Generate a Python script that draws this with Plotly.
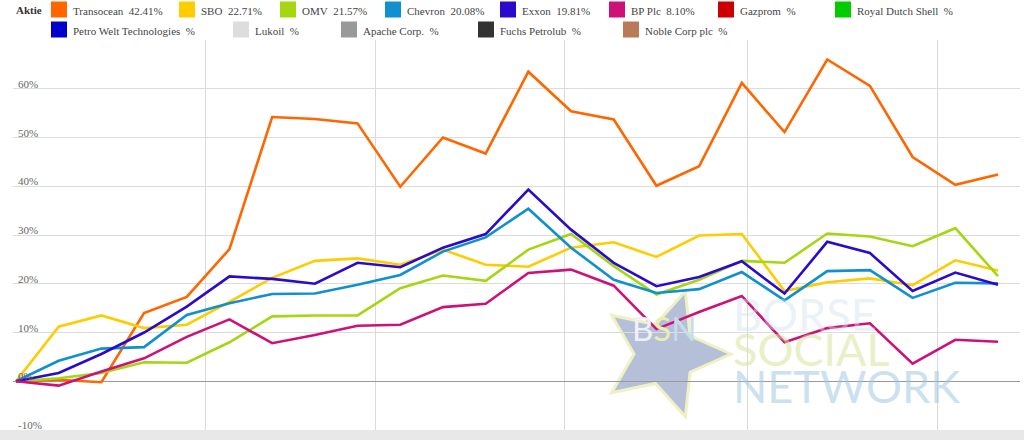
import numpy as np
import pandas as pd
import plotly.graph_objects as go

# weekly performance since start, in percent
dates = pd.date_range("2015-01-01", periods=24, freq="7D")

transocean = [0, 0.3, -0.2, 14.0, 17.3, 27.1, 54.2, 53.8, 52.9, 39.9, 50.0, 46.7,
              63.5, 55.4, 53.7, 40.1, 44.1, 61.2, 51.1, 66.0, 60.6, 46.0, 40.3, 42.41]
sbo = [0, 11.2, 13.5, 10.9, 11.6, 16.3, 21.2, 24.7, 25.2, 23.9, 27.0, 23.9,
       23.5, 27.4, 28.5, 25.5, 29.9, 30.2, 18.5, 20.3, 21.1, 19.7, 24.8, 22.71]
omv = [0, 0.6, 1.7, 3.9, 3.8, 8.0, 13.3, 13.5, 13.5, 19.1, 21.7, 20.6,
       27.0, 30.2, 23.6, 17.8, 20.8, 24.7, 24.3, 30.3, 29.7, 27.7, 31.4, 21.57]
chevron = [0, 4.2, 6.7, 7.0, 13.6, 16.0, 17.9, 18.0, 19.8, 21.8, 26.6, 29.5,
           35.4, 27.4, 20.8, 18.1, 18.9, 22.4, 16.6, 22.6, 22.8, 17.1, 20.2, 20.08]
exxon = [0, 1.7, 5.6, 10.0, 15.3, 21.5, 21.0, 20.0, 24.3, 23.4, 27.4, 30.2,
         39.3, 31.1, 24.3, 19.5, 21.4, 24.6, 18.0, 28.6, 26.3, 18.5, 22.3, 19.81]
bp = [0, -0.9, 2.0, 4.7, 9.1, 12.7, 7.8, 9.5, 11.4, 11.6, 15.2, 15.9,
      22.2, 22.9, 19.6, 10.7, 14.2, 17.5, 8.0, 10.9, 11.9, 3.6, 8.5, 8.10]

names = ["Transocean", "SBO", "OMV", "Chevron", "Exxon", "BP Plc", "Gazprom",
         "Royal Dutch Shell", "Petro Welt Technologies", "Lukoil", "Apache Corp.",
         "Fuchs Petrolub", "Noble Corp plc"]
series = [transocean, sbo, omv, chevron, exxon, bp, [], [], [], [], [], [], []]
colors = ["#ff6600", "#ffcc00", "#a5d612", "#1190d0", "#2a0acc", "#cc1177", "#cc0000",
          "#00cc00", "#0000cc", "#dddddd", "#999999", "#333333", "#b97a57"]

y_ticks = [-10, 0, 10, 20, 30, 40, 50, 60, 70]

# layout geometry (pixels)
W, H = 1024, 440
L, R, T, B = 13, 4, 40, 10
PW, PH = W - L - R, H - T - B


def px(x):
    return (x - L) / PW


def py(y):
    return (H - B - y) / PH


fig = go.Figure()
for name, vals, col in zip(names, series, colors):
    fig.add_trace(go.Scatter(x=dates[:len(vals)], y=vals, name=name, mode="lines",
                             line=dict(color=col, width=2.6), showlegend=False))

shapes = []
annotations = []

# y labels sit inside the plot, just above their gridline
for v in y_ticks[:-1]:
    annotations.append(dict(x=px(16), y=v, xref="paper", yref="y", text=f"{v}%",
                            showarrow=False, xanchor="left", yanchor="middle", yshift=5,
                            font=dict(family="Liberation Serif", size=11, color="#666")))

# custom legend with square swatches
legend_pos = [(51, 0), (179, 0), (280, 0), (385, 0), (500, 0), (609, 0), (718, 0), (835, 0),
              (51, 1), (233, 1), (341, 1), (478, 1), (623, 1)]
annotations.append(dict(x=px(14), y=py(10), xref="paper", yref="paper", text="<b>Aktie</b>",
                        showarrow=False, xanchor="left", yanchor="middle",
                        font=dict(family="Liberation Serif", size=11, color="#333")))
for (lx, row), name, vals, col in zip(legend_pos, names, series, colors):
    cy = 9.5 + 20 * row
    shapes.append(dict(type="rect", xref="paper", yref="paper",
                       x0=px(lx), x1=px(lx + 16), y0=py(cy - 8), y1=py(cy + 8),
                       fillcolor=col, line=dict(width=0)))
    pct = f"{vals[-1]:.2f}" if vals else ""
    annotations.append(dict(x=px(lx + 20), y=py(cy + 1), xref="paper", yref="paper",
                            text=f"{name}\u00a0\u00a0{pct}%", showarrow=False,
                            xanchor="left", yanchor="middle",
                            font=dict(family="Liberation Serif", size=11, color="#444")))

# watermark star
cx, cy, ro, ri = 665, 354, 66, 31
ang = np.deg2rad(np.arange(10) * 36)
rad = np.where(np.arange(10) % 2 == 0, ro, ri)
sx = cx + rad * np.cos(ang)
sy = cy - rad * np.sin(ang)
path = "M " + " L ".join(f"{px(a):.5f},{py(b):.5f}" for a, b in zip(sx, sy)) + " Z"
shapes.append(dict(type="path", path=path, xref="paper", yref="paper", layer="between",
                   fillcolor="#b5c0d8", line=dict(color="#eef2c2", width=3)))
annotations.append(dict(x=px(664), y=py(350), xref="paper", yref="paper", showarrow=False,
                        text="<span style='color:#eef2f8'>B</span><span style='color:#e8eeb0'>S</span>"
                             "<span style='color:#c6dcec'>N</span>",
                        font=dict(family="Lato", size=33, color="#eef2f8")))
for word, wy, wc in [("BÖRSE", 314, "rgba(210,226,238,0.45)"),
                     ("SOCIAL", 349, "rgba(214,226,150,0.55)"),
                     ("NETWORK", 386, "rgba(160,200,225,0.55)")]:
    annotations.append(dict(x=px(731), y=py(wy), xref="paper", yref="paper", text=word,
                            showarrow=False, xanchor="left", yanchor="middle",
                            height=34, valign="middle",
                            font=dict(family="Lato", size=45, color=wc)))

# navigator strip at the bottom
shapes.append(dict(type="rect", xref="paper", yref="paper", x0=px(0), x1=px(W),
                   y0=py(440), y1=py(430), fillcolor="#e8e8e8", line=dict(width=0)))

fig.update_layout(
    width=W, height=H,
    margin=dict(l=L, r=R, t=T, b=B),
    plot_bgcolor="white", paper_bgcolor="white",
    shapes=shapes, annotations=annotations,
    xaxis=dict(range=["2014-12-31 12:15", "2015-06-14 14:30"],
               tickvals=["2015-02-01", "2015-03-01", "2015-04-01", "2015-05-01", "2015-06-01"],
               showticklabels=False, showgrid=True, gridcolor="#dadada", gridwidth=1,
               zeroline=False, showline=False),
    yaxis=dict(range=[-10, 70], tickvals=y_ticks, showticklabels=False,
               showgrid=True, gridcolor="#dcdcdc", gridwidth=1,
               zeroline=True, zerolinecolor="#999", zerolinewidth=1, showline=False),
    showlegend=False,
)

fig.write_html("out.html", config={"displayModeBar": False},
               post_script="document.body.style.margin = '0';")
